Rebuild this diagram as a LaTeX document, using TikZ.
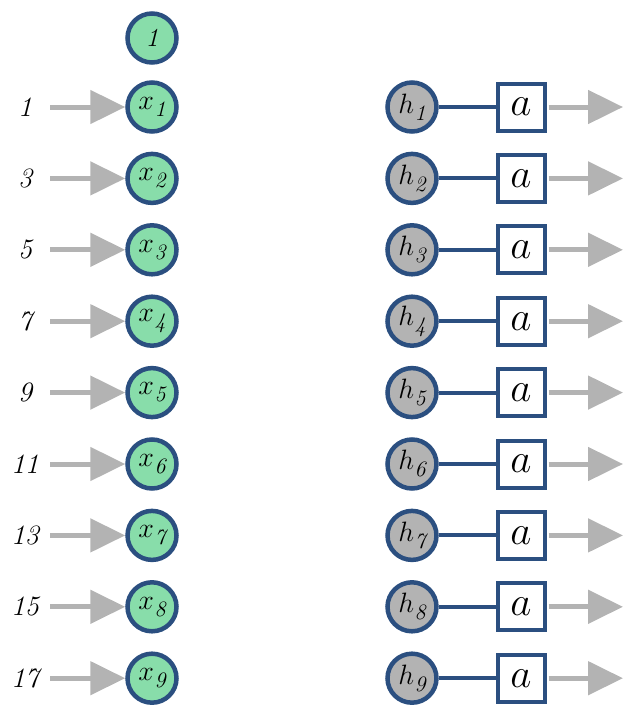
\RequirePackage{fix-cm}
\documentclass[tikz,border=0pt]{standalone}
\usetikzlibrary{arrows.meta}
\definecolor{nodeblue}{HTML}{2B4F80}
\definecolor{nodegreen}{HTML}{88DDAA}
\definecolor{nodegray}{HTML}{B3B3B3}
\definecolor{arrgray}{HTML}{B3B3B3}
\newcommand{\unitlab}[2]{{\fontsize{28}{28}\selectfont$#1$}\kern0.5pt\raisebox{-7pt}{\fontsize{22}{22}\selectfont\itshape #2}}
\begin{document}
\begin{tikzpicture}[x=1pt,y=-1pt,
  unit/.style={circle,draw=nodeblue,line width=4.5pt,minimum size=49pt,inner sep=0pt},
  inunit/.style={unit,fill=nodegreen},
  hidunit/.style={unit,fill=nodegray},
  actbox/.style={rectangle,draw=nodeblue,line width=4pt,fill=white,minimum size=47pt,inner sep=0pt,font=\fontsize{41}{41}\selectfont},
  inlabel/.style={font=\fontsize{28}{28}\selectfont\itshape},
  grayarrow/.style={draw=arrgray,line width=5pt,-{Triangle[length=35pt,width=33pt]}},
  link/.style={draw=nodeblue,line width=4pt}]
\useasboundingbox (0,0) rectangle (623,705);
\node[inunit,font=\fontsize{26}{26}\selectfont\itshape] (b) at (152,38) {1};
\foreach \i/\v in {1/1,2/3,3/5,4/7,5/9,6/11,7/13,8/15,9/17}{
  \pgfmathsetmacro{\yy}{107+71.4*(\i-1)}
  \node[inlabel] (l\i) at (25,\yy) {\v};
  \coordinate (s\i) at (50,\yy);
  \node[inunit] (x\i) at (152,\yy) {\unitlab{x}{\i}};
  \node[hidunit] (h\i) at (412,\yy) {\unitlab{h}{\i}};
  \node[actbox] (a\i) at (521,\yy) {$a$};
  \coordinate (e\i) at (623,\yy);
  \draw[grayarrow] (s\i) -- (x\i);
  \draw[link] (h\i) -- (a\i);
  \draw[grayarrow] (a\i.east) ++(2,0) -- (e\i);
}
\end{tikzpicture}
\end{document}
